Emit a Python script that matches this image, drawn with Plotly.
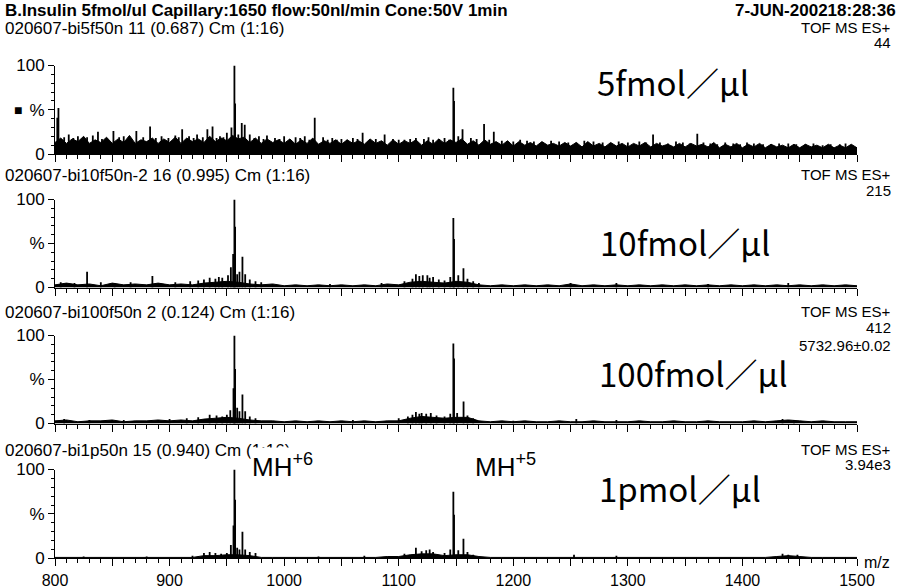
import plotly.graph_objects as go

W, H = 901, 587

# ---------------- data ----------------
x_ticks = [800, 900, 1000, 1100, 1200, 1300, 1400, 1500]
x_tick_labels = ["800", "900", "1000", "1100", "1200", "1300", "1400", "1500"]

# low-level noise envelopes (% of base peak)
noise_mz_1 = list(range(800, 1501, 5))
noise_1 = [13, 18, 12, 17, 14, 20, 12, 16, 13, 19,
           12, 17, 13, 21, 12, 16, 14, 18, 12, 17,
           13, 19, 12, 18, 14, 17, 13, 20, 14, 18,
           15, 21, 17, 19, 13, 18, 12, 17, 13, 16,
           12, 17, 11, 16, 12, 18, 11, 15, 12, 16,
           11, 16, 12, 15, 11, 17, 12, 15, 10, 16,
           11, 15, 12, 16, 10, 15, 11, 17, 12, 16,
           13, 17, 11, 15, 10, 16, 11, 14, 10, 15,
           9, 14, 10, 13, 9, 14, 10, 12, 9, 13,
           9, 13, 8, 14, 9, 12, 8, 13, 9, 12,
           8, 12, 9, 13, 8, 12, 9, 11, 8, 12,
           8, 12, 9, 11, 8, 13, 7, 11, 8, 12,
           7, 11, 8, 12, 7, 11, 8, 10, 7, 11,
           7, 11, 8, 10, 7, 11, 7, 10, 7, 11,
           7]

noise_mz = list(range(800, 1501, 10))
noise_2 = [3, 5, 3, 4, 2, 5, 3, 4, 3, 5,
           3, 4, 3, 5, 6, 7, 6, 4, 3, 4,
           2, 3, 2, 3, 2, 3, 2, 3, 2, 4,
           3, 6, 7, 6, 5, 7, 6, 3, 2, 3,
           2, 3, 2, 3, 2, 4, 2, 3, 2, 3,
           2, 3, 2, 3, 2, 3, 2, 3, 2, 3,
           2, 3, 2, 3, 2, 3, 2, 3, 2, 3,
           2]
noise_3 = [3, 4, 2, 3, 3, 4, 2, 3, 3, 4,
           3, 4, 3, 5, 6, 7, 6, 4, 3, 3,
           2, 3, 2, 3, 2, 3, 2, 3, 2, 3,
           3, 6, 8, 7, 6, 7, 7, 3, 2, 3,
           2, 3, 2, 2, 3, 2, 2, 3, 2, 2,
           2, 3, 2, 2, 3, 2, 2, 3, 2, 2,
           2, 3, 2, 3, 4, 3, 2, 3, 2, 2,
           2]
noise_4 = [1, 1, 1, 1, 1, 1, 1, 1, 1, 1,
           1, 1, 1, 3, 3, 4, 4, 3, 1, 1,
           1, 1, 1, 1, 1, 1, 1, 1, 1, 2,
           2, 4, 5, 5, 3, 4, 4, 2, 1, 1,
           1, 1, 1, 1, 1, 1, 1, 1, 1, 1,
           1, 1, 1, 1, 1, 1, 1, 1, 1, 1,
           1, 1, 1, 2, 3, 2, 1, 1, 1, 1,
           1]

# peaks / spikes (m/z, %)
mz_1 = [802, 803, 808, 812, 816, 820, 824, 828, 833, 837.5, 841, 845, 851, 856,
        860, 866, 871, 877, 883, 888, 893, 899, 905, 908, 911, 917, 921, 924,
        929, 933, 937.5, 941, 944, 947, 950, 954, 956.6, 957.2, 960, 963,
        965.6, 970, 974, 978, 982, 985, 992, 996, 1000, 1005, 1010, 1014, 1018,
        1022, 1026.7, 1034, 1038, 1042, 1046, 1050, 1055, 1060, 1064, 1068.5,
        1075, 1080, 1087.7, 1095, 1100, 1105, 1110, 1115, 1122, 1126, 1130,
        1135, 1140, 1144, 1147.7, 1148.3, 1152, 1155.7, 1163, 1168, 1174.5,
        1179, 1183, 1190, 1200, 1206, 1212, 1218, 1225, 1233, 1240, 1248, 1255,
        1262, 1270, 1278, 1285, 1292, 1300, 1310, 1316, 1322, 1328, 1335, 1342,
        1348, 1354, 1360.6, 1366, 1372, 1378, 1385, 1392, 1398, 1404, 1410,
        1418, 1425, 1432, 1440, 1447, 1455, 1462, 1470, 1477, 1485, 1490, 1495]
int_1 = [41, 52, 19, 22, 18, 20, 17, 19, 21, 25, 17, 18, 26, 19,
         20, 18, 26, 19, 31, 18, 20, 18, 21, 19, 28, 20, 18, 22,
         19, 28, 31, 18, 20, 19, 24, 30, 100, 57, 22, 35,
         33, 22, 18, 20, 17, 21, 18, 17, 20, 17, 19, 18, 20,
         16, 41, 19, 16, 18, 16, 17, 16, 18, 17, 24,
         16, 17, 22, 17, 16, 16, 17, 18, 17, 19, 16,
         17, 18, 16, 75, 60, 20, 28, 18, 17, 34,
         16, 25, 15, 14, 16, 15, 14, 13, 15, 14, 13, 13,
         15, 14, 13, 12, 14, 13, 14, 13, 22, 13, 12, 14,
         13, 12, 23, 13, 12, 11, 13, 12, 11, 13, 12,
         11, 11, 12, 12, 11, 11, 12, 10, 11, 11, 12, 10]

mz_2 = [805, 817, 828, 840, 852, 866, 885, 905, 918, 925, 930, 935, 940,
        943, 946, 951, 953.5, 955.5, 956.6, 957.2, 959, 961, 963.6, 966, 970,
        975, 980, 1040, 1085, 1105, 1112, 1115, 1118, 1121, 1125, 1127, 1130,
        1135, 1140, 1145, 1147.7, 1148.3, 1152, 1156.5, 1160, 1165, 1170,
        1250, 1290, 1370, 1440]
int_2 = [6, 5, 18, 6, 5, 6, 13, 6, 7, 8, 9, 11, 10,
         12, 11, 14, 23, 38, 100, 69, 15, 18, 35, 15, 9,
         7, 6, 4, 5, 7, 10, 15, 13, 14, 14, 11, 12,
         9, 8, 12, 79, 55, 14, 22, 10, 7, 5,
         5, 5, 4, 5]

mz_3 = [808, 830, 860, 900, 915, 925, 935, 941, 946, 950, 953, 955.8, 956.6,
        957.2, 959, 961, 963.6, 966, 970, 975, 1060, 1100, 1108, 1112, 1115,
        1118, 1120, 1124, 1128, 1133, 1140, 1145, 1147.7, 1148.3, 1151,
        1156.6, 1160, 1165, 1200, 1255, 1290, 1435, 1445]
int_3 = [5, 4, 4, 5, 6, 7, 10, 9, 8, 10, 15, 40, 100,
         62, 18, 14, 33, 14, 8, 6, 4, 6, 8, 10, 13,
         11, 12, 11, 12, 9, 8, 11, 91, 74, 12,
         25, 9, 6, 3, 5, 4, 5, 4]

mz_4 = [825, 880, 920, 930, 935, 940, 945, 950, 953.5, 955.8, 956.6, 957.2,
        959, 961, 963.6, 966, 970, 975, 1030, 1070, 1105, 1115, 1120, 1124,
        1127, 1130, 1140, 1145, 1147.7, 1148.3, 1152, 1156.5, 1160, 1165,
        1253, 1290, 1435, 1440, 1448]
int_4 = [2, 2, 3, 6, 7, 6, 5, 6, 15, 37, 100, 66,
         12, 10, 30, 10, 7, 6, 2, 3, 5, 12, 8, 9,
         10, 7, 6, 10, 75, 49, 9, 22, 7, 4,
         4, 3, 5, 4, 4]

sample_titles = ["020607-bi5f50n 11 (0.687) Cm (1:16)",
                 "020607-bi10f50n-2 16 (0.995) Cm (1:16)",
                 "020607-bi100f50n 2 (0.124) Cm (1:16)",
                 "020607-bi1p50n 15 (0.940) Cm (1:16)"]
scale_labels = ["44", "215", "412", "3.94e3"]
conc_labels = ["5fmol／μl", "10fmol／μl", "100fmol／μl", "1pmol／μl"]

# ---------------- layout geometry ----------------
FONT = "Liberation Sans, Arial, sans-serif"
JFONT = "Noto Sans CJK JP, sans-serif"


def px_x(x):
    return x / W


def px_y(y):
    return 1 - y / H


# (y of 100, y of 0) in pixels per panel
panel_px = [(65.5, 154), (199.5, 287.5), (335.5, 423.5), (469.5, 558.3)]
x_left, x_right = 55, 857

panels = [(noise_mz_1, noise_1, mz_1, int_1),
          (noise_mz, noise_2, mz_2, int_2),
          (noise_mz, noise_3, mz_3, int_3),
          (noise_mz, noise_4, mz_4, int_4)]

fig = go.Figure()


def sticks(mz, inten):
    xs, ys = [], []
    for m, v in zip(mz, inten):
        xs += [m, m, None]
        ys += [0, v, None]
    return xs, ys


layout = dict(
    width=W, height=H, margin=dict(l=0, r=0, t=0, b=0),
    paper_bgcolor="white", plot_bgcolor="white", showlegend=False,
    font=dict(family=FONT, size=16, color="black"),
)

major_x = list(range(800, 1501, 50))
for k, (nmz, nv, mz, iv) in enumerate(panels):
    i = k + 1
    xa = "x" if i == 1 else f"x{i}"
    ya = "y" if i == 1 else f"y{i}"
    fig.add_trace(go.Scatter(x=nmz, y=nv, mode="lines", fill="tozeroy",
                             fillcolor="black", line=dict(color="black", width=1),
                             xaxis=xa, yaxis=ya, hoverinfo="skip"))
    sx, sy = sticks(mz, iv)
    fig.add_trace(go.Scatter(x=sx, y=sy, mode="lines",
                             line=dict(color="black", width=1.8),
                             xaxis=xa, yaxis=ya, hoverinfo="skip"))
    top, bot = panel_px[k]
    xname = "xaxis" if i == 1 else f"xaxis{i}"
    yname = "yaxis" if i == 1 else f"yaxis{i}"
    labels = [(x_tick_labels[x_ticks.index(v)] if (i == 4 and v in x_ticks) else "")
              for v in major_x]
    layout[xname] = dict(
        domain=[px_x(x_left), px_x(x_right)], range=[800, 1500],
        anchor=ya, showline=True, linecolor="black", linewidth=1,
        showgrid=False, zeroline=False, ticks="outside", ticklen=7,
        tickcolor="black", tickwidth=1, tickmode="array", tickvals=major_x,
        ticktext=labels, tickfont=dict(family=FONT, size=16),
        minor=dict(tickmode="linear", tick0=800, dtick=10, ticks="outside",
                   ticklen=4, tickcolor="black", tickwidth=1, showgrid=False),
        automargin=False, fixedrange=True,
    )
    layout[yname] = dict(
        domain=[px_y(bot), px_y(top)], range=[0, 100],
        anchor=xa, showline=True, linecolor="black", linewidth=1,
        showgrid=False, zeroline=False, ticks="outside", ticklen=6,
        tickcolor="black", tickwidth=1, tickmode="array",
        tickvals=[0, 50, 100], ticktext=["0", "%", "100"],
        tickfont=dict(family=FONT, size=17),
        minor=dict(tickmode="linear", tick0=0, dtick=10, ticks="outside",
                   ticklen=3, tickcolor="black", tickwidth=1, showgrid=False),
        automargin=False, fixedrange=True,
    )

fig.update_layout(**layout)

ann = []


def text(s, x, y, size=16, xanchor="left", bold=False, family=FONT, bg=None):
    d = dict(text=f"<b>{s}</b>" if bold else s, x=px_x(x), y=px_y(y),
             xref="paper", yref="paper", xanchor=xanchor, yanchor="middle",
             showarrow=False, font=dict(family=family, size=size, color="black"))
    if bg:
        d["bgcolor"] = bg
    ann.append(d)


text("B.Insulin 5fmol/ul Capillary:1650 flow:50nl/min Cone:50V 1min", 3, 10, 17, bold=True)
text("7-JUN-200218:28:36", 898, 10, 17, xanchor="right", bold=True)

sub_y = [28, 175, 312, 450]
for k in range(4):
    text(sample_titles[k], 3, sub_y[k], 17)
    text("TOF MS ES+", 893, sub_y[k] - 1, 15, xanchor="right")
    text(scale_labels[k], 893, sub_y[k] + 15, 15, xanchor="right")
text("5732.96±0.02", 893, 345, 15, xanchor="right")
text("■", 12, 110, 14)

conc_pos = [(595, 82), (598, 242), (597, 373), (597, 488)]
for k in range(4):
    text(conc_labels[k], conc_pos[k][0], conc_pos[k][1], 33, family=JFONT)

text("MH<sup>+6</sup>", 250, 466, 26, bg="white")
text("MH<sup>+5</sup>", 473, 466, 26)
text("m/z", 862, 562, 16)

fig.update_layout(annotations=ann)
fig.write_html("out.html")
